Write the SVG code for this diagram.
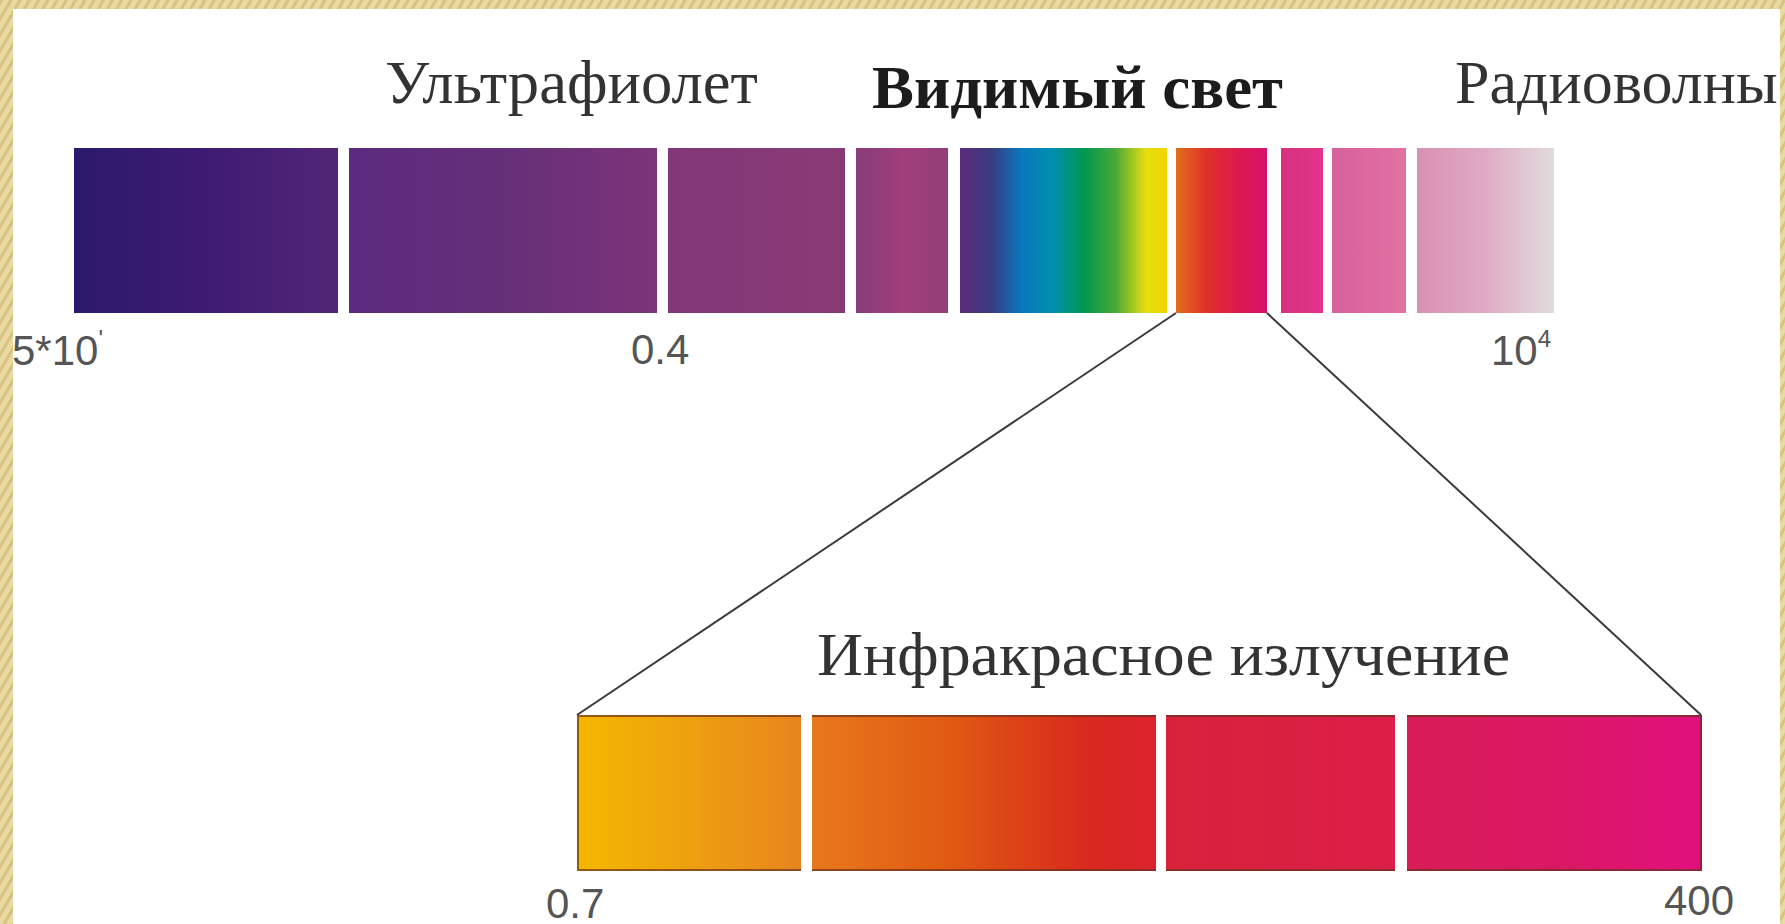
<svg xmlns="http://www.w3.org/2000/svg" width="1785" height="924" viewBox="0 0 1785 924">
<style>
.serif{font-family:"Liberation Serif","Times New Roman",serif;font-size:62px;fill:#333}
.bold{font-weight:bold;fill:#1c1c1c}
.num{font-family:"Liberation Sans",Arial,sans-serif;font-size:42px;fill:#555}
.sup{font-size:24px}
.conn{stroke:#3a3a3a;stroke-width:2;fill:none}
.edge{stroke:#6a3020;stroke-opacity:0.7;stroke-width:2;fill:none}
</style>
<defs>
<pattern id="stripes" width="8" height="8" patternUnits="userSpaceOnUse" patternTransform="rotate(30)">
<rect width="8" height="8" fill="#e9d9a3"/>
<rect width="3" height="8" fill="#d9c27e"/>
</pattern>
<linearGradient id="g1"><stop offset="0" stop-color="#2b1a6c"/><stop offset="0.5" stop-color="#3e1b72"/><stop offset="1" stop-color="#512677"/></linearGradient>
<linearGradient id="g2"><stop offset="0" stop-color="#5c2a80"/><stop offset="0.5" stop-color="#652f78"/><stop offset="1" stop-color="#7c3479"/></linearGradient>
<linearGradient id="g3"><stop offset="0" stop-color="#823778"/><stop offset="1" stop-color="#8a3b76"/></linearGradient>
<linearGradient id="g4"><stop offset="0" stop-color="#873c78"/><stop offset="0.5" stop-color="#a03f7c"/><stop offset="1" stop-color="#923e76"/></linearGradient>
<linearGradient id="g5"><stop offset="0" stop-color="#5b2c7a"/><stop offset="0.15" stop-color="#3a3a80"/><stop offset="0.3" stop-color="#0a78bc"/><stop offset="0.45" stop-color="#0090b0"/><stop offset="0.6" stop-color="#00984e"/><stop offset="0.75" stop-color="#4aa838"/><stop offset="0.9" stop-color="#e6de10"/><stop offset="1" stop-color="#f2d400"/></linearGradient>
<linearGradient id="g6"><stop offset="0" stop-color="#e0701e"/><stop offset="0.35" stop-color="#e02e28"/><stop offset="0.7" stop-color="#dc1a50"/><stop offset="1" stop-color="#d8106c"/></linearGradient>
<linearGradient id="g7"><stop offset="0" stop-color="#d63280"/><stop offset="1" stop-color="#e2348a"/></linearGradient>
<linearGradient id="g8"><stop offset="0" stop-color="#d8609c"/><stop offset="1" stop-color="#e072a2"/></linearGradient>
<linearGradient id="g9"><stop offset="0" stop-color="#d890b2"/><stop offset="0.5" stop-color="#e0aac4"/><stop offset="1" stop-color="#e0dcdc"/></linearGradient>
<linearGradient id="h1"><stop offset="0" stop-color="#f4b800"/><stop offset="0.5" stop-color="#eea010"/><stop offset="1" stop-color="#e8841e"/></linearGradient>
<linearGradient id="h2"><stop offset="0" stop-color="#e8781c"/><stop offset="0.4" stop-color="#e05a12"/><stop offset="0.8" stop-color="#d82a1e"/><stop offset="1" stop-color="#dc2230"/></linearGradient>
<linearGradient id="h3"><stop offset="0" stop-color="#d8223a"/><stop offset="1" stop-color="#dc1e48"/></linearGradient>
<linearGradient id="h4"><stop offset="0" stop-color="#d81c56"/><stop offset="0.6" stop-color="#dc1668"/><stop offset="1" stop-color="#e0107e"/></linearGradient>
</defs>
<rect x="0" y="0" width="1785" height="924" fill="#ffffff"/>

<g id="top-spectrum">
<rect x="74" y="148" width="264" height="165" fill="url(#g1)"/>
<rect x="349" y="148" width="308" height="165" fill="url(#g2)"/>
<rect x="668" y="148" width="177" height="165" fill="url(#g3)"/>
<rect x="856" y="148" width="92" height="165" fill="url(#g4)"/>
<rect x="960" y="148" width="207" height="165" fill="url(#g5)"/>
<rect x="1176" y="148" width="91" height="165" fill="url(#g6)"/>
<rect x="1281" y="148" width="42" height="165" fill="url(#g7)"/>
<rect x="1332" y="148" width="74" height="165" fill="url(#g8)"/>
<rect x="1417" y="148" width="137" height="165" fill="url(#g9)"/>
</g>

<g id="infrared-bar">
<rect x="577" y="715" width="224" height="156" fill="url(#h1)"/>
<rect x="812" y="715" width="344" height="156" fill="url(#h2)"/>
<rect x="1166" y="715" width="229" height="156" fill="url(#h3)"/>
<rect x="1407" y="715" width="295" height="156" fill="url(#h4)"/>
<path class="edge" d="M801 716 H578 V870 H801 M812 716 H1156 M812 870 H1156 M1166 716 H1395 M1166 870 H1395 M1407 716 H1701 V870 H1407"/>
</g>

<g id="connectors">
<line class="conn" x1="1176" y1="313" x2="577" y2="715"/>
<line class="conn" x1="1267" y1="313" x2="1701" y2="715"/>
</g>

<g id="labels">
<text class="serif" x="385" y="103" textLength="373" lengthAdjust="spacingAndGlyphs">Ультрафиолет</text>
<text class="serif bold" x="872" y="108" textLength="411" lengthAdjust="spacingAndGlyphs">Видимый свет</text>
<text class="serif" x="1455" y="103">Радиоволны</text>
<text class="serif" x="817" y="675" textLength="693" lengthAdjust="spacingAndGlyphs">Инфракрасное излучение</text>
<text class="num" x="12" y="365">5*10<tspan class="sup" dy="-18">'</tspan></text>
<text class="num" x="631" y="364">0.4</text>
<text class="num" x="1491" y="365">10<tspan class="sup" dy="-18">4</tspan></text>
<text class="num" x="546" y="918">0.7</text>
<text class="num" x="1664" y="915">400</text>
</g>

<g id="frame">
<rect x="0" y="0" width="1785" height="9" fill="url(#stripes)"/>
<rect x="0" y="0" width="13" height="924" fill="url(#stripes)"/>
<rect x="1780" y="0" width="5" height="924" fill="url(#stripes)"/>
</g>
</svg>
